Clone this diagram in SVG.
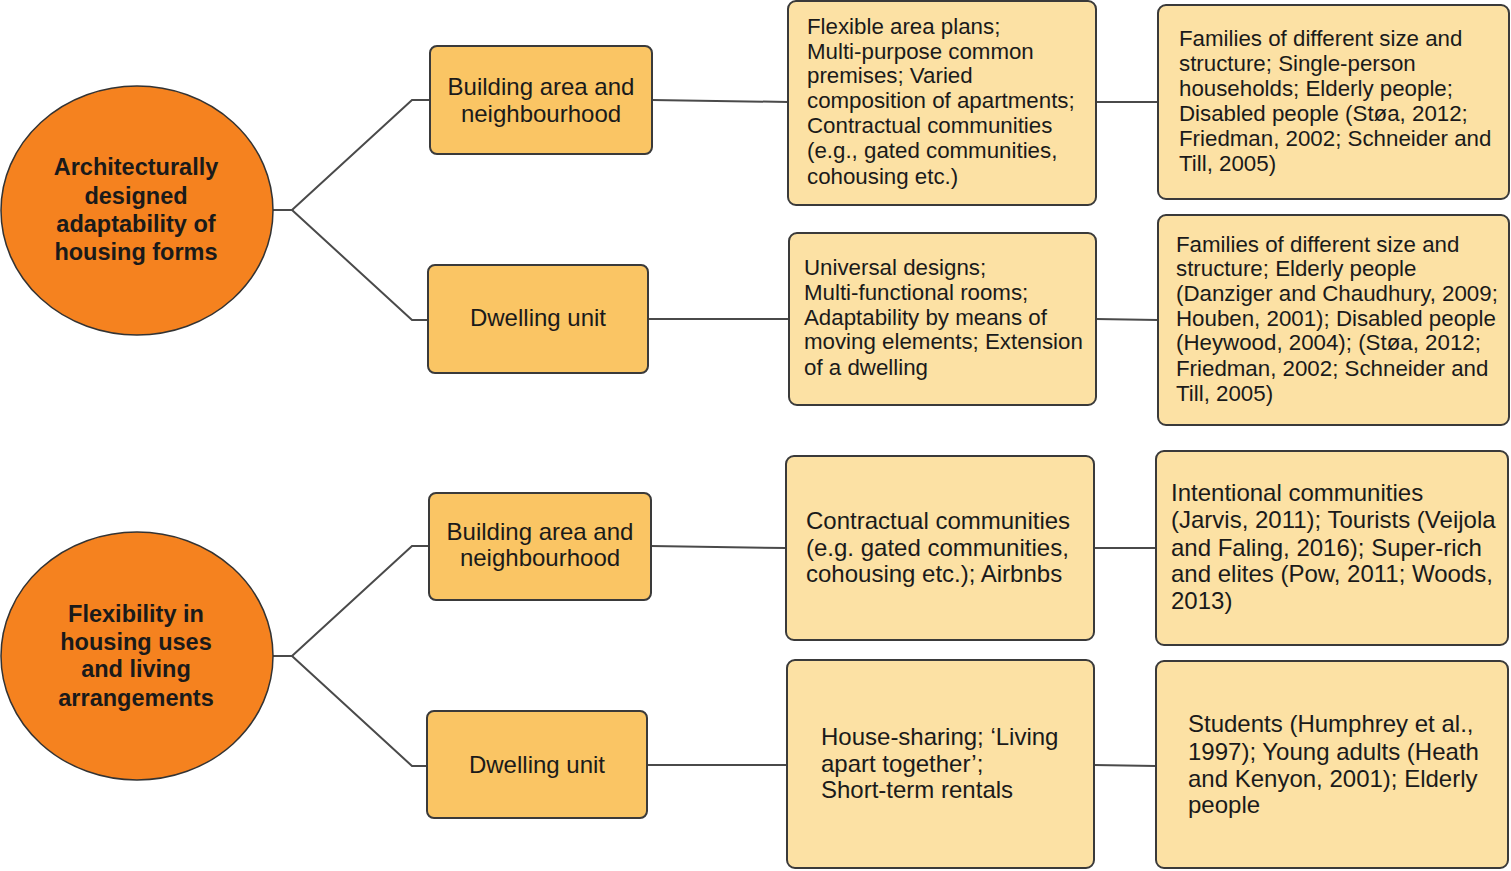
<svg xmlns="http://www.w3.org/2000/svg" width="1511" height="871" viewBox="0 0 1511 871">
<style>
.circ{fill:#F5821F;stroke:#333;stroke-width:1.5}
.b2{fill:#FAC564;stroke:#3a3a3a;stroke-width:2}
.b3{fill:#FCE1A4;stroke:#3a3a3a;stroke-width:2}
.conn{fill:none;stroke:#4a4a4a;stroke-width:2}
text{font-family:"Liberation Sans",Arial,sans-serif;fill:#1a1a1a}
.ct{font-weight:bold;font-size:23.5px;text-anchor:middle}
.t2{font-size:24px;text-anchor:middle}
.t3a{font-size:22.3px}
.t3b{font-size:24px}
</style>
<rect width="1511" height="871" fill="#ffffff"/>
<g id="connectors">
<polyline class="conn" points="273,210 292,210 412,100 430,100"/>
<polyline class="conn" points="292,210 412,320 428,320"/>
<line class="conn" x1="652" y1="100" x2="788" y2="102"/>
<line class="conn" x1="1096" y1="102" x2="1158" y2="102"/>
<line class="conn" x1="648" y1="319" x2="789" y2="319"/>
<line class="conn" x1="1096" y1="319" x2="1158" y2="320"/>
<polyline class="conn" points="273,656 292,656 412,546 429,546"/>
<polyline class="conn" points="292,656 412,766 427,766"/>
<line class="conn" x1="651" y1="546" x2="786" y2="548"/>
<line class="conn" x1="1094" y1="548" x2="1156" y2="548"/>
<line class="conn" x1="647" y1="765" x2="787" y2="765"/>
<line class="conn" x1="1094" y1="765" x2="1156" y2="766"/>
</g>
<g id="c1">
<ellipse class="circ" cx="137" cy="210.5" rx="136" ry="124.5"/>
<text class="ct" x="136" y="175">Architecturally</text>
<text class="ct" x="136" y="204">designed</text>
<text class="ct" x="136" y="232">adaptability of</text>
<text class="ct" x="136" y="260">housing forms</text>
</g>
<g id="c2">
<ellipse class="circ" cx="137" cy="656" rx="136" ry="124"/>
<text class="ct" x="136" y="622">Flexibility in</text>
<text class="ct" x="136" y="650">housing uses</text>
<text class="ct" x="136" y="677">and living</text>
<text class="ct" x="136" y="706">arrangements</text>
</g>
<g id="ba1">
<rect class="b2" x="430" y="46" width="222" height="108" rx="7"/>
<text class="t2" x="541" y="95">Building area and</text>
<text class="t2" x="541" y="122">neighbourhood</text>
</g>
<g id="du1">
<rect class="b2" x="428" y="265" width="220" height="108" rx="7"/>
<text class="t2" x="538" y="326">Dwelling unit</text>
</g>
<g id="ba2">
<rect class="b2" x="429" y="493" width="222" height="107" rx="7"/>
<text class="t2" x="540" y="540">Building area and</text>
<text class="t2" x="540" y="566">neighbourhood</text>
</g>
<g id="du2">
<rect class="b2" x="427" y="711" width="220" height="107" rx="7"/>
<text class="t2" x="537" y="773">Dwelling unit</text>
</g>
<g id="n3">
<rect class="b3" x="788" y="1" width="308" height="204" rx="8"/>
<text class="t3a" x="807" y="34">Flexible area plans;</text>
<text class="t3a" x="807" y="59">Multi-purpose common</text>
<text class="t3a" x="807" y="83">premises; Varied</text>
<text class="t3a" x="807" y="108">composition of apartments;</text>
<text class="t3a" x="807" y="133">Contractual communities</text>
<text class="t3a" x="807" y="158">(e.g., gated communities,</text>
<text class="t3a" x="807" y="184">cohousing etc.)</text>
</g>
<g id="n4">
<rect class="b3" x="1158" y="5" width="351" height="194" rx="8"/>
<text class="t3a" x="1179" y="46">Families of different size and</text>
<text class="t3a" x="1179" y="71">structure; Single-person</text>
<text class="t3a" x="1179" y="96">households; Elderly people;</text>
<text class="t3a" x="1179" y="121">Disabled people (Støa, 2012;</text>
<text class="t3a" x="1179" y="146">Friedman, 2002; Schneider and</text>
<text class="t3a" x="1179" y="171">Till, 2005)</text>
</g>
<g id="n5">
<rect class="b3" x="789" y="233" width="307" height="172" rx="8"/>
<text class="t3a" x="804" y="275">Universal designs;</text>
<text class="t3a" x="804" y="300">Multi-functional rooms;</text>
<text class="t3a" x="804" y="325">Adaptability by means of</text>
<text class="t3a" x="804" y="349">moving elements; Extension</text>
<text class="t3a" x="804" y="375">of a dwelling</text>
</g>
<g id="n6">
<rect class="b3" x="1158" y="215" width="351" height="210" rx="8"/>
<text class="t3a" x="1176" y="252">Families of different size and</text>
<text class="t3a" x="1176" y="276">structure; Elderly people</text>
<text class="t3a" x="1176" y="301">(Danziger and Chaudhury, 2009;</text>
<text class="t3a" x="1176" y="326">Houben, 2001); Disabled people</text>
<text class="t3a" x="1176" y="350">(Heywood, 2004); (Støa, 2012;</text>
<text class="t3a" x="1176" y="376">Friedman, 2002; Schneider and</text>
<text class="t3a" x="1176" y="401">Till, 2005)</text>
</g>
<g id="n7">
<rect class="b3" x="786" y="456" width="308" height="184" rx="8"/>
<text class="t3b" x="806" y="529">Contractual communities</text>
<text class="t3b" x="806" y="556">(e.g. gated communities,</text>
<text class="t3b" x="806" y="582">cohousing etc.); Airbnbs</text>
</g>
<g id="n8">
<rect class="b3" x="1156" y="451" width="352" height="194" rx="8"/>
<text class="t3b" x="1171" y="501">Intentional communities</text>
<text class="t3b" x="1171" y="528">(Jarvis, 2011); Tourists (Veijola</text>
<text class="t3b" x="1171" y="556">and Faling, 2016); Super-rich</text>
<text class="t3b" x="1171" y="582">and elites (Pow, 2011; Woods,</text>
<text class="t3b" x="1171" y="609">2013)</text>
</g>
<g id="n9">
<rect class="b3" x="787" y="660" width="307" height="208" rx="8"/>
<text class="t3b" x="821" y="745">House-sharing; ‘Living</text>
<text class="t3b" x="821" y="772">apart together’;</text>
<text class="t3b" x="821" y="798">Short-term rentals</text>
</g>
<g id="n10">
<rect class="b3" x="1156" y="661" width="352" height="207" rx="8"/>
<text class="t3b" x="1188" y="732">Students (Humphrey et al.,</text>
<text class="t3b" x="1188" y="760">1997); Young adults (Heath</text>
<text class="t3b" x="1188" y="787">and Kenyon, 2001); Elderly</text>
<text class="t3b" x="1188" y="813">people</text>
</g>
</svg>
